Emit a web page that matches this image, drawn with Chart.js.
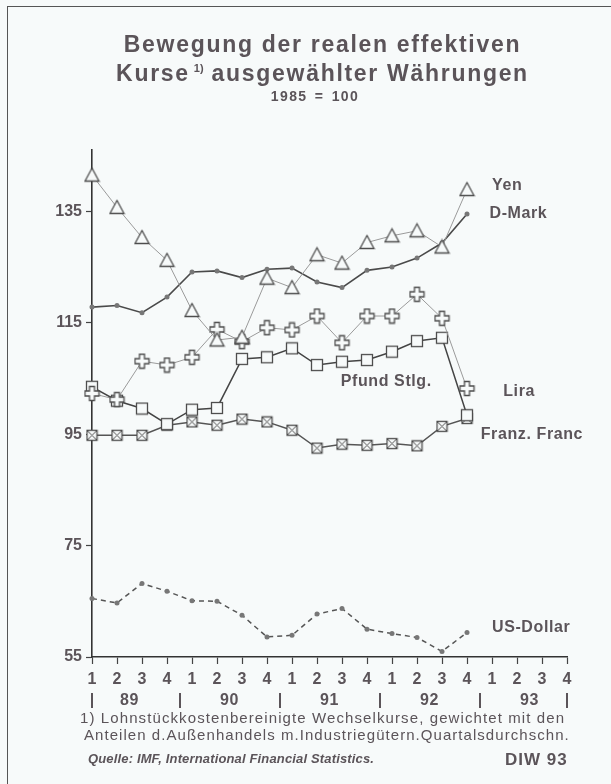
<!DOCTYPE html>
<html lang="de">
<head>
<meta charset="utf-8">
<title>Bewegung der realen effektiven Kurse</title>
<script src="https://cdn.jsdelivr.net/npm/chart.js@4.4.1/dist/chart.umd.min.js"></script>
<style>
    body { margin: 0; background: #f7fafa; }
    #wrap { position: relative; width: 611px; height: 784px; overflow: hidden; font-family: "Liberation Sans", Arial, sans-serif; color: #5b5459; }
    #rahmen { position: absolute; left: 7px; top: 6px; right: -4px; bottom: -4px; border-left: 1.5px solid #555; border-top: 1.5px solid #555; }
    #grafik { position: absolute; left: 0; top: 0; }
    .txt { position: absolute; white-space: nowrap; }
    #titel { left: 20px; width: 605px; top: 30px; text-align: center; font-weight: bold; font-size: 23px; line-height: 29px; letter-spacing: 1.7px; }
    #titel sup { font-size: 11px; letter-spacing: 0; vertical-align: 9px; line-height: 0; margin: 0 8px 0 4px; }
    #basis { left: 215px; width: 200px; top: 88px; text-align: center; font-weight: bold; font-size: 14px; letter-spacing: 1.4px; word-spacing: 2px; }
    #fuss1 { left: 80px; top: 709px; font-size: 15px; letter-spacing: 1.1px; }
    #fuss2 { left: 84px; top: 726px; font-size: 15px; letter-spacing: 1.05px; }
    #quelle { left: 88px; top: 751px; font-size: 13px; font-weight: bold; font-style: italic; letter-spacing: 0.15px; }
    #diw { left: 505px; top: 750px; font-size: 17px; font-weight: bold; letter-spacing: 1px; }
</style>
</head>
<body>
<div id="wrap">
    <div id="rahmen"></div>
    <canvas id="grafik" width="611" height="784"></canvas>
    <div class="txt" id="titel">Bewegung der realen effektiven<br>Kurse<sup>1)</sup>ausgewählter Währungen</div>
    <div class="txt" id="basis">1985 = 100</div>
    <div class="txt" id="fuss1">1) Lohnstückkostenbereinigte Wechselkurse, gewichtet mit den</div>
    <div class="txt" id="fuss2">Anteilen d.Außenhandels m.Industriegütern.Quartalsdurchschn.</div>
    <div class="txt" id="quelle">Quelle: IMF, International Financial Statistics.</div>
    <div class="txt" id="diw">DIW 93</div>
</div>
<script>
// Quartale 1989 - 1993
const quartale = ['1','2','3','4','1','2','3','4','1','2','3','4','1','2','3','4','1','2','3','4'];
const jahre = ['89', '90', '91', '92', '93'];
const yTicks = [55, 75, 95, 115, 135];

// Werte 89/1 bis 92/4 (1985 = 100)
const yen = [141.5, 135.7, 130.3, 126.2, 117.2, 111.9, 112.4, 123.0, 121.3, 127.2, 125.7, 129.4, 130.6, 131.5, 128.6, 138.9];
const dmark = [117.8, 118.1, 116.8, 119.6, 124.1, 124.3, 123.1, 124.6, 124.8, 122.3, 121.3, 124.4, 125.0, 126.6, 129.3, 134.5];
const lira = [102.3, 101.2, 108.1, 107.4, 108.8, 113.8, 111.6, 114.1, 113.7, 116.2, 111.4, 116.2, 116.2, 120.1, 115.8, 103.2];
const pfund = [103.5, 101.0, 99.6, 96.8, 99.4, 99.7, 108.5, 108.8, 110.4, 107.4, 108.0, 108.3, 109.8, 111.7, 112.3, 98.4];
const franc = [94.8, 94.8, 94.8, 96.6, 97.2, 96.6, 97.7, 97.2, 95.7, 92.5, 93.2, 93.0, 93.3, 92.9, 96.4, 97.8];
const dollar = [65.5, 64.7, 68.2, 66.8, 65.1, 65.0, 62.5, 58.6, 58.9, 62.7, 63.7, 60.0, 59.2, 58.5, 56.0, 59.4];

const textFarbe = '#5b5459';
const papier = '#f7fafa';

// Beschriftung der Kurven: [Name, Quartal-Index, Wert]
const namen = [
    ['Yen', 16.0, 139.7],
    ['D-Mark', 15.9, 134.5],
    ['Pfund Stlg.', 9.95, 104.5],
    ['Lira', 16.45, 102.7],
    ['Franz. Franc', 15.55, 94.9],
    ['US-Dollar', 16.0, 60.2]
];

// eigene Markierungen
function marker(groesse, zeichne) {
    const c = document.createElement('canvas');
    c.width = groesse;
    c.height = groesse;
    const g = c.getContext('2d');
    g.strokeStyle = '#4d4d4d';
    g.fillStyle = papier;
    g.lineWidth = 1.3;
    zeichne(g, groesse);
    return c;
}

const dreieck = marker(17, (g) => {
    g.beginPath();
    g.moveTo(8.5, 1.5);
    g.lineTo(15.5, 14.5);
    g.lineTo(1.5, 14.5);
    g.closePath();
    g.fill();
    g.stroke();
});

const kreuz = marker(17, (g) => {
    g.beginPath();
    g.moveTo(6, 1.5); g.lineTo(11, 1.5); g.lineTo(11, 6); g.lineTo(15.5, 6);
    g.lineTo(15.5, 11); g.lineTo(11, 11); g.lineTo(11, 15.5); g.lineTo(6, 15.5);
    g.lineTo(6, 11); g.lineTo(1.5, 11); g.lineTo(1.5, 6); g.lineTo(6, 6);
    g.closePath();
    g.fill();
    g.stroke();
});

const quadrat = marker(14, (g) => {
    g.fillRect(1.5, 1.5, 11, 11);
    g.strokeRect(1.5, 1.5, 11, 11);
});

const quadratX = marker(13, (g) => {
    g.fillRect(1.5, 1.5, 10, 10);
    g.strokeRect(1.5, 1.5, 10, 10);
    g.lineWidth = 1;
    g.beginPath();
    g.moveTo(1.5, 1.5); g.lineTo(11.5, 11.5);
    g.moveTo(11.5, 1.5); g.lineTo(1.5, 11.5);
    g.stroke();
});

const beschriftung = {
    id: 'beschriftung',
    afterDraw(chart) {
        const { ctx, scales: { x, y } } = chart;
        ctx.save();
        ctx.fillStyle = textFarbe;
        ctx.font = 'bold 16px "Liberation Sans", Arial, sans-serif';
        ctx.letterSpacing = '0.6px';
        ctx.textBaseline = 'middle';

        // Jahreszeile
        ctx.textAlign = 'center';
        jahre.forEach((j, i) => {
            ctx.fillText(j, x.getPixelForValue(i * 4 + 1.5), 701);
        });
        [0, 3.5, 7.5, 11.5, 15.5, 19].forEach(t => {
            const px = Math.round(x.getPixelForValue(t));
            ctx.fillRect(px - 1, 693, 2, 15);
        });

        // Namen der Waehrungen
        ctx.textAlign = 'left';
        namen.forEach(([name, q, w]) => {
            ctx.fillText(name, x.getPixelForValue(q), y.getPixelForValue(w));
        });
        ctx.restore();
    }
};

const ctx = document.getElementById('grafik').getContext('2d');

new Chart(ctx, {
    type: 'line',
    data: {
        labels: quartale,
        datasets: [
            { label: 'Yen', data: yen, borderColor: '#9a9a9a', borderWidth: 1, pointStyle: dreieck },
            { label: 'D-Mark', data: dmark, borderColor: '#4a4a4a', borderWidth: 1.6, pointStyle: 'circle', pointRadius: 2.5, pointBackgroundColor: '#777', pointBorderWidth: 0 },
            { label: 'Lira', data: lira, borderColor: '#9a9a9a', borderWidth: 1, pointStyle: kreuz },
            { label: 'Pfund Stlg.', data: pfund, borderColor: '#444', borderWidth: 1.5, pointStyle: quadrat },
            { label: 'Franz. Franc', data: franc, borderColor: '#555', borderWidth: 1.5, pointStyle: quadratX },
            { label: 'US-Dollar', data: dollar, borderColor: '#555', borderWidth: 1.5, borderDash: [5, 4], pointStyle: 'circle', pointRadius: 2.5, pointBackgroundColor: '#777', pointBorderWidth: 0 }
        ]
    },
    options: {
        responsive: false,
        animation: false,
        events: [],
        layout: { padding: { top: 150, right: 44, left: 0, bottom: 0 } },
        datasets: { line: { tension: 0, clip: false } },
        plugins: {
            legend: { display: false },
            title: { display: false },
            tooltip: { enabled: false }
        },
        scales: {
            x: {
                afterFit: (s) => { s.height = 127; },
                grid: { drawOnChartArea: false, tickLength: 7, color: '#444', tickWidth: 1.2 },
                border: { color: '#333', width: 1.6 },
                ticks: {
                    color: textFarbe,
                    font: { family: '"Liberation Sans", Arial, sans-serif', size: 16, weight: 'bold' },
                    padding: 6,
                    maxRotation: 0,
                    autoSkip: false
                }
            },
            y: {
                min: 55,
                max: 146,
                afterFit: (s) => { s.width = 92; },
                afterBuildTicks: (s) => { s.ticks = yTicks.map(v => ({ value: v })); },
                grid: { drawOnChartArea: false, tickLength: 6, color: '#444', tickWidth: 1.2 },
                border: { color: '#333', width: 1.6 },
                ticks: {
                    color: textFarbe,
                    font: { family: '"Liberation Sans", Arial, sans-serif', size: 16, weight: 'bold' },
                    padding: 4
                }
            }
        }
    },
    plugins: [beschriftung]
});
</script>
</body>
</html>
